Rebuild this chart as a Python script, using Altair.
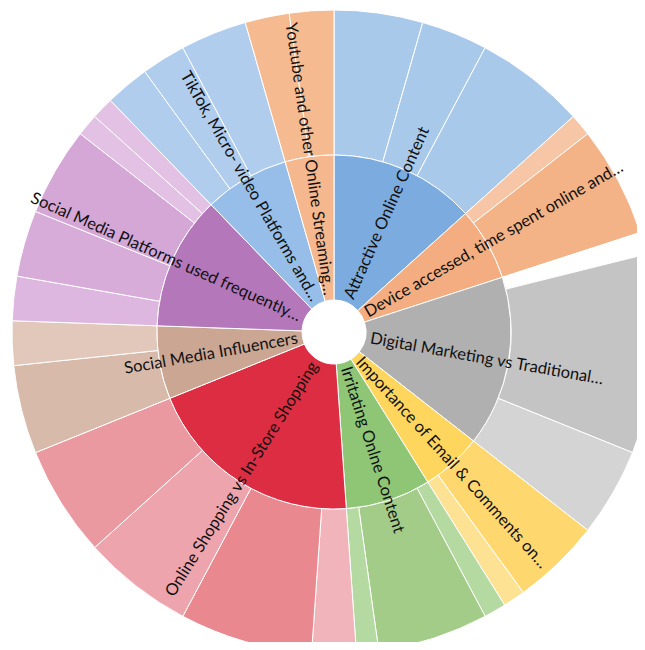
import math
import numpy as np
import pandas as pd
import altair as alt

# Inner ring (parent categories), clockwise from 12 o'clock
inner_names = [
    "Attractive Online Content",
    "Device accessed, time spent online and…",
    "Digital Marketing vs Traditional…",
    "Importance of Email & Comments on…",
    "Irritating Onlne Content",
    "Online Shopping vs In-Store Shopping",
    "Social Media Influencers",
    "Social Media Platforms used frequently…",
    "TikTok, Micro- video Platforms and…",
    "Youtube and other Online Streaming…",
]
inner_colors = [
    "#7cacdf", "#f3ad80", "#b0b0b0", "#fed65e", "#8fc676",
    "#dc2d42", "#caa693", "#b477ba", "#96bee8", "#f5b78d",
]

# Outer ring (answers), parent index, count, colour
leaf_parent = [0, 0, 0, 1, 1, 2, 2, 2, 3, 3, 4, 4, 4, 5, 5, 5, 5,
               6, 6, 7, 7, 7, 7, 7, 8, 8, 8, 9, 9]
leaf_values = [4, 3, 5, 1, 5, 1, 9, 4, 4, 1, 1, 5, 1, 2, 6, 5, 5,
               4, 2, 2, 3, 4, 1, 1, 2, 2, 3, 2, 2]
leaf_colors = [
    "#a9c9eb", "#a9c9eb", "#a9c9eb",
    "#f6c6a6", "#f4b387",
    "#ffffff", "#c4c4c4", "#d4d4d4",
    "#fed86f", "#fee294",
    "#b4d9a1", "#a3cc88", "#b4d9a1",
    "#f1b4ba", "#e9888f", "#eea4ac", "#eb99a1",
    "#d7baa9", "#e1c8bb",
    "#ddb7df", "#d8acd9", "#d5a7d6", "#e2c1e4", "#e2c1e4",
    "#b0cdee", "#b0cdee", "#b0cdee",
    "#f5ba90", "#f5ba90",
]

total = sum(leaf_values)

leaf = pd.DataFrame({"parent": leaf_parent, "value": leaf_values, "color": leaf_colors})
leaf["end"] = leaf["value"].cumsum()
leaf["start"] = leaf["end"] - leaf["value"]

inner = (leaf.groupby("parent").agg(start=("start", "min"), end=("end", "max"))
         .reset_index())
inner["name"] = [inner_names[i] for i in inner["parent"]]
inner["color"] = [inner_colors[i] for i in inner["parent"]]
inner["mid"] = (inner["start"] + inner["end"]) / 2
deg = inner["mid"] / total * 360
inner["right"] = deg < 180
inner["rot"] = np.where(inner["right"], deg - 90, deg + 90) % 360

theta_scale = alt.Scale(domain=[0, total], range=[0, 2 * math.pi])
cx = alt.value(326)
cy = alt.value(324)

outer_ring = alt.Chart(leaf).mark_arc(
    stroke="white", strokeWidth=1, radius=322, radius2=177
).encode(
    x=cx, y=cy,
    theta=alt.Theta("start:Q", scale=theta_scale, stack=None),
    theta2="end:Q",
    color=alt.Color("color:N", scale=None),
)

inner_ring = alt.Chart(inner).mark_arc(
    stroke="white", strokeWidth=1, radius=177, radius2=32
).encode(
    x=cx, y=cy,
    theta=alt.Theta("start:Q", scale=theta_scale, stack=None),
    theta2="end:Q",
    color=alt.Color("color:N", scale=None),
)

label_props = dict(radius=37, baseline="middle", font="Lato", fontSize=16.5, color="#111111")

labels_right = alt.Chart(inner[inner["right"]]).mark_text(align="left", **label_props).encode(
    x=cx, y=cy,
    theta=alt.Theta("mid:Q", scale=theta_scale, stack=None),
    angle=alt.Angle("rot:Q", scale=None),
    text="name:N",
)
labels_left = alt.Chart(inner[~inner["right"]]).mark_text(align="right", **label_props).encode(
    x=cx, y=cy,
    theta=alt.Theta("mid:Q", scale=theta_scale, stack=None),
    angle=alt.Angle("rot:Q", scale=None),
    text="name:N",
)

chart = alt.layer(outer_ring, inner_ring, labels_right, labels_left).properties(
    width=629, height=634, padding=0, autosize="none", background="white"
).configure_view(stroke=None)

chart.save("out.html", embed_options={"renderer": "svg", "actions": False})
